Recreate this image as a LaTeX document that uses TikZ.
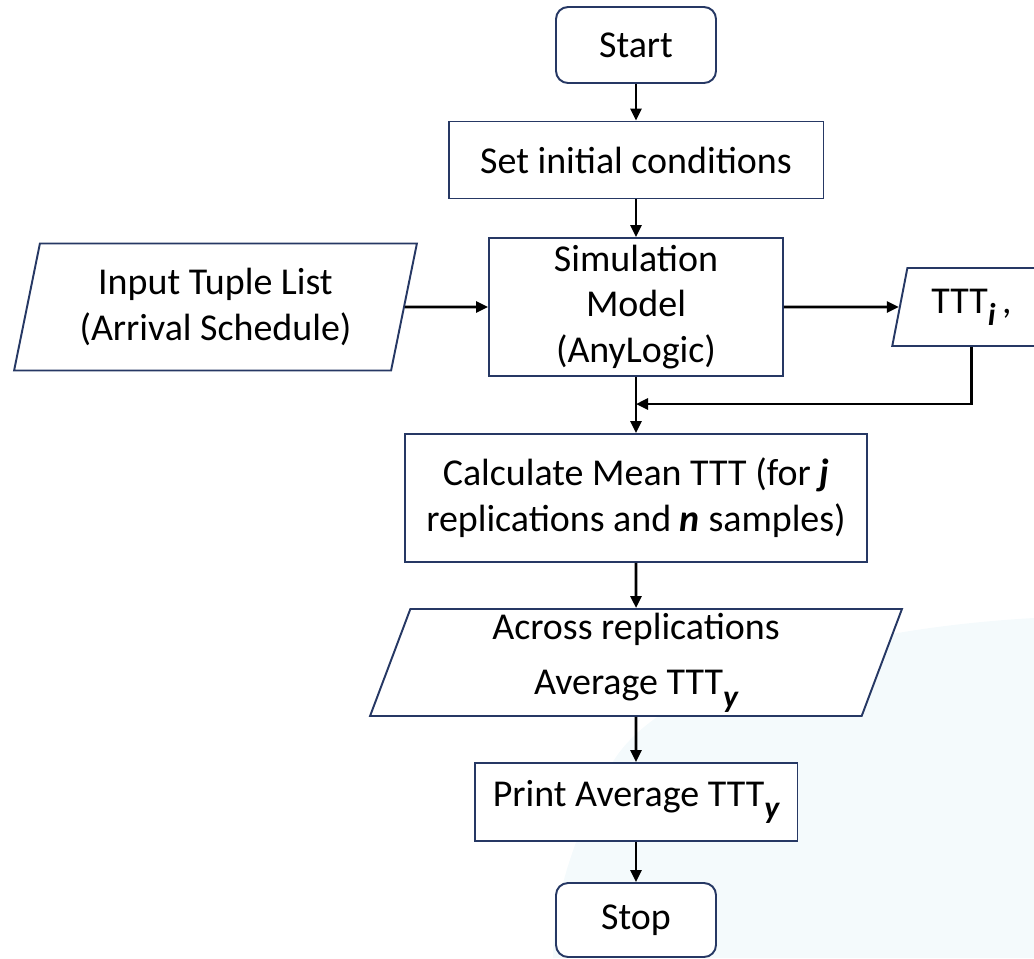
\documentclass[tikz,border=0pt]{standalone}
\usepackage{fontspec}
\setmainfont{Carlito}
\usetikzlibrary{shapes.geometric,arrows.meta}

\definecolor{boxline}{RGB}{38,56,100}
\definecolor{paleblue}{RGB}{244,250,252}
% lowered bold italic index
\newcommand{\tsub}[1]{\raisebox{-0.32em}{\fontsize{18}{18}\selectfont\bfseries\itshape #1}}

\begin{document}
\begin{tikzpicture}[x=0.02cm,y=-0.02cm,
		every node/.style={font=\fontsize{21.6}{26}\selectfont, align=center, inner sep=0pt},
		proc/.style={draw=boxline, line width=1.1pt, fill=white, rectangle},
		term/.style={proc, rounded corners=0.24cm},
		io/.style={draw=boxline, line width=1.1pt, fill=white, trapezium,
			trapezium left angle=75.5, trapezium right angle=104.5, trapezium stretches},
		flow/.style={line width=1.6pt, -{Triangle[length=0.24cm,width=0.22cm]}}]

		\useasboundingbox (0,0) rectangle (1034,958);
		% pale backdrop
		\fill[paleblue] (1034,618) .. controls (820,630) and (650,690) .. (610,767)
			.. controls (580,825) and (553,890) .. (553,958) -- (1034,958) -- cycle;

		% main column
		\node[term, minimum width=3.2cm, minimum height=1.52cm] (start) at (636,45) {Start};
		\node[proc, minimum width=7.5cm, minimum height=1.54cm] (init) at (636,160) {Set initial conditions};
		\node[proc, minimum width=5.88cm, minimum height=2.76cm] (sim) at (636,307) {Simulation\\Model\\(AnyLogic)};
		\node[proc, minimum width=9.24cm, minimum height=2.56cm] (calc) at (636,498)
			{Calculate Mean TTT (for \textbf{\textit{j}}\\replications and \textbf{\textit{n}} samples)};
		\node[io, minimum width=10.64cm, minimum height=2.14cm] (across) at (636,662.5)
			{Across replications\\[0.2cm]Average TTT\tsub{y}};
		\node[proc, minimum width=6.46cm, minimum height=1.56cm] (print) at (636,802) {Print Average TTT\tsub{y}};
		\node[term, minimum width=3.2cm, minimum height=1.48cm] (stop) at (636,920) {Stop};

		% side boxes
		\node[io, minimum width=8.06cm, minimum height=2.54cm] (input) at (215.5,307) {Input Tuple List\\(Arrival Schedule)};
		\node[io, minimum width=3.18cm, minimum height=1.56cm] (ttt) at (971.5,307) {TTT\tsub{i}\,,};
		\coordinate (merge) at (636,404);

		% arrows
		\draw[flow] (start) -- (init);
		\draw[flow] (init) -- (sim);
		\draw[flow] (input) -- (sim);
		\draw[flow] (sim) -- (ttt);
		\draw[flow] (sim) -- (calc);
		\draw[flow] (ttt.south) |- (merge);
		\draw[flow] (calc) -- (across);
		\draw[flow] (across) -- (print);
		\draw[flow] (print) -- (stop);
\end{tikzpicture}
\end{document}
